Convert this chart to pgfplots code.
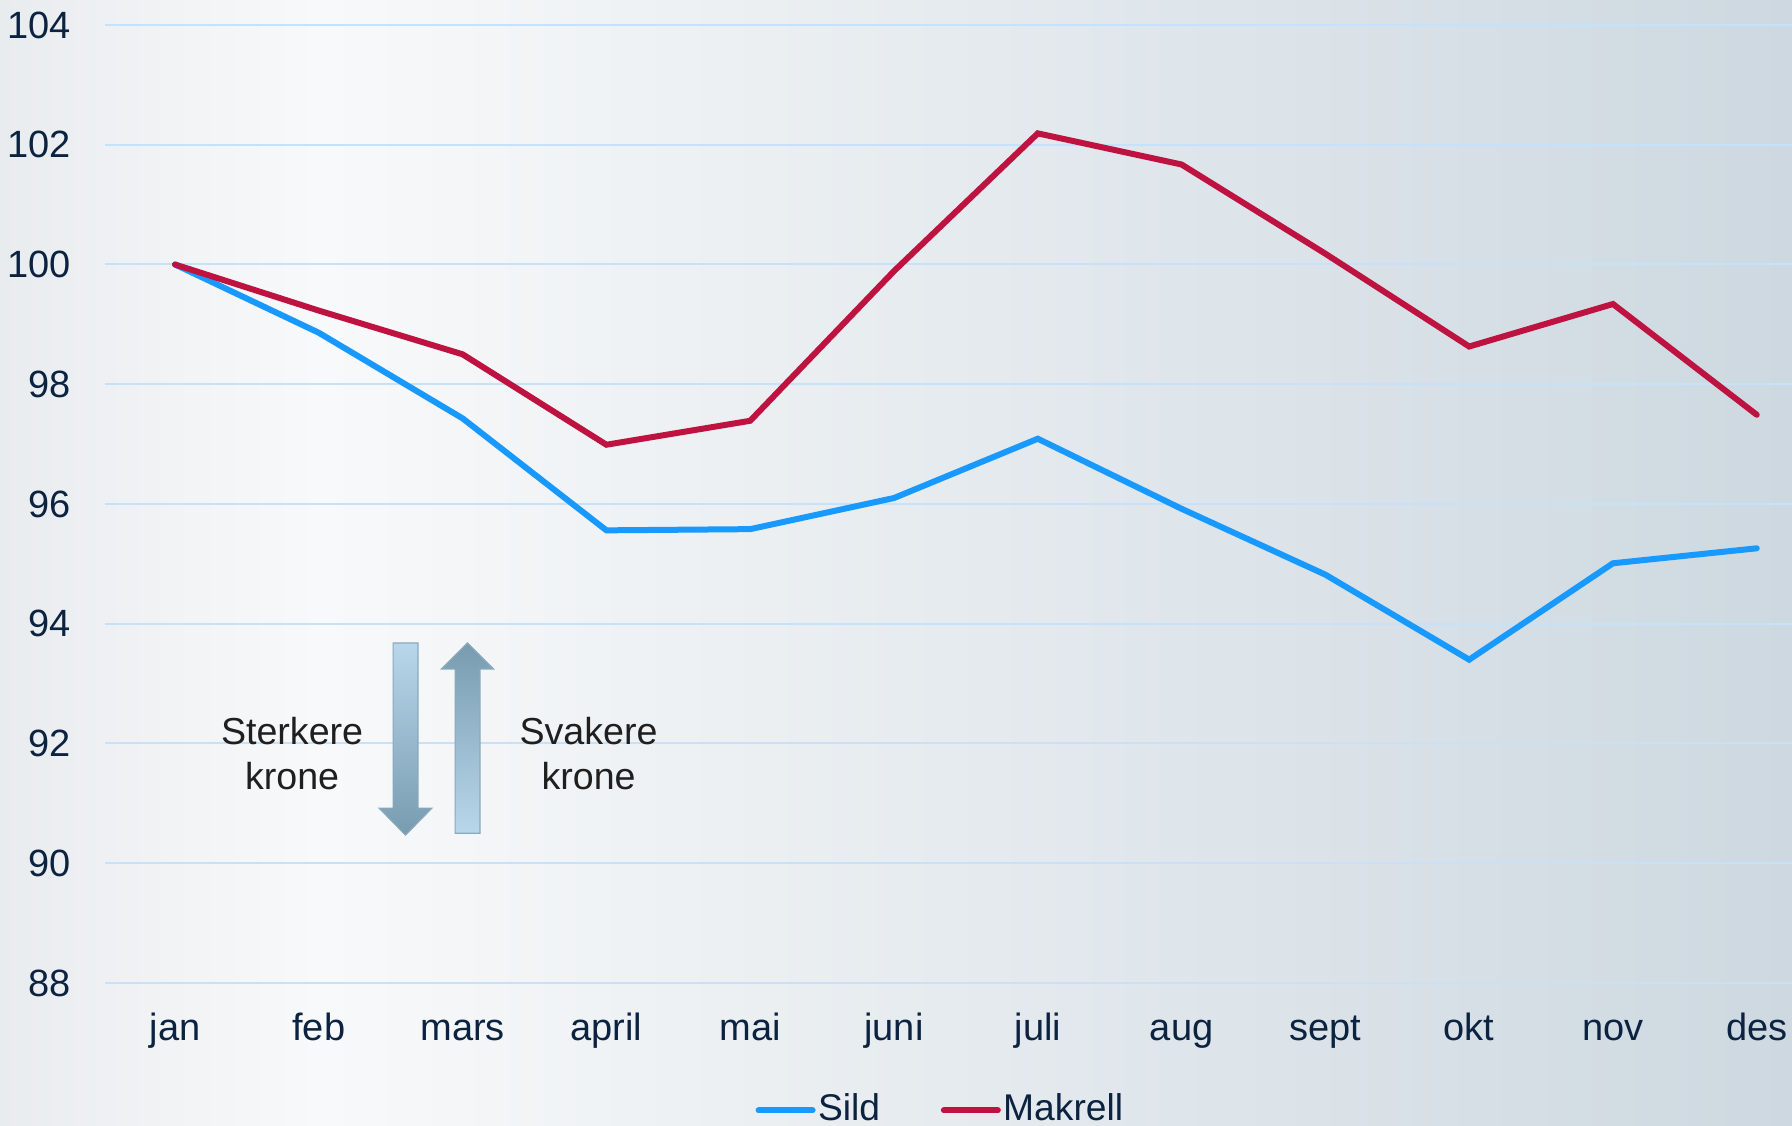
\documentclass[border=0pt]{standalone}
\usepackage{fontspec}
\setmainfont{Liberation Sans}
\usepackage{pgfplots}
\pgfplotsset{compat=1.18}
\usetikzlibrary{backgrounds}

\definecolor{sild}{HTML}{1899FF}
\definecolor{makrell}{HTML}{BE1240}
\definecolor{navy}{HTML}{0B2340}
\definecolor{gridblue}{HTML}{C6E2FA}
\definecolor{arrlight}{HTML}{B9D7EB}
\definecolor{arrdark}{HTML}{789BB0}
\definecolor{arredge}{HTML}{8AA9BC}
\definecolor{bgL}{HTML}{E9ECEF}
\definecolor{bgW}{HTML}{F8F9FA}
\definecolor{bgR}{HTML}{CDD8E0}

\pgfplotstableread{
x sild makrell
0  100.00 100.00
1  98.86  99.23
2  97.43  98.50
3  95.56  96.99
4  95.58  97.39
5  96.10  99.89
6  97.09  102.19
7  95.92  101.67
8  94.82  100.18
9  93.40  98.63
10 95.01  99.34
11 95.26  97.49
}\indeks

\begin{document}
\begin{tikzpicture}
\begin{axis}[
    name=ax,
    scale only axis,
    width=421.75pt, height=239.5pt,
    xmin=-0.487, xmax=11.245,
    ymin=88, ymax=104,
    xtick={0,...,11},
    xticklabels={jan,feb,mars,april,mai,juni,juli,aug,sept,okt,nov,des},
    ytick={88,90,...,104},
    ymajorgrids,
    grid style={gridblue, line width=0.5pt},
    axis line style={draw=none},
    major tick length=0pt,
    tick label style={font=\fontsize{9.5}{11.4}\selectfont, text=navy},
    /pgf/number format/assume math mode=true,
    yticklabel style={xshift=-5pt},
    xticklabel style={anchor=base, yshift=-14.25pt},
    clip=false,
    legend columns=-1,
    legend style={at={(0.4953,-0.133)}, anchor=center, draw=none, fill=none,
        font=\fontsize{9.3}{11}\selectfont, text=navy,
        nodes={inner xsep=0.6pt},
        /tikz/every even column/.append style={column sep=14.6pt}},
    legend image code/.code={\draw[#1, line width=1.5pt, line cap=round] (0pt,0pt) -- (13.5pt,0pt);},
]
\addplot[sild, line width=1.5pt, line cap=round] table[x=x, y=sild] {\indeks};
\addlegendentry{Sild}
\addplot[makrell, line width=1.5pt, line cap=round] table[x=x, y=makrell] {\indeks};
\addlegendentry{Makrell}

% pil ned: sterkere krone
\shade[top color=arrlight, bottom color=arrdark, draw=arredge, line width=0.3pt]
  ([xshift=-3.1pt]axis cs:1.603,93.68) -- ([xshift=3.1pt]axis cs:1.603,93.68)
  -- ([xshift=3.1pt,yshift=6.75pt]axis cs:1.603,90.47)
  -- ([xshift=6.6pt,yshift=6.75pt]axis cs:1.603,90.47)
  -- (axis cs:1.603,90.47)
  -- ([xshift=-6.6pt,yshift=6.75pt]axis cs:1.603,90.47)
  -- ([xshift=-3.1pt,yshift=6.75pt]axis cs:1.603,90.47) -- cycle;
% pil opp: svakere krone
\shade[top color=arrdark, bottom color=arrlight, draw=arredge, line width=0.3pt]
  ([xshift=-3.1pt]axis cs:2.034,90.50) -- ([xshift=3.1pt]axis cs:2.034,90.50)
  -- ([xshift=3.1pt,yshift=-6.5pt]axis cs:2.034,93.68)
  -- ([xshift=6.5pt,yshift=-6.5pt]axis cs:2.034,93.68)
  -- (axis cs:2.034,93.68)
  -- ([xshift=-6.5pt,yshift=-6.5pt]axis cs:2.034,93.68)
  -- ([xshift=-3.1pt,yshift=-6.5pt]axis cs:2.034,93.68) -- cycle;

\node[align=center, font=\fontsize{9.4}{11.25}\selectfont, text=black!88]
  at (axis cs:0.814,91.84) {Sterkere\\krone};
\node[align=center, font=\fontsize{9.4}{11.25}\selectfont, text=black!88]
  at (axis cs:2.876,91.84) {Svakere\\krone};
\end{axis}

\pgfresetboundingbox
\path[use as bounding box] ([shift={(-26.25pt,-35.75pt)}]ax.south west)
  rectangle ([shift={(0pt,6.25pt)}]ax.north east);
\begin{scope}[on background layer]
\path ([shift={(-26.25pt,-35.75pt)}]ax.south west) coordinate (bsw);
\path ([shift={(0pt,6.25pt)}]ax.north east) coordinate (bne);
\shade[left color=bgL, right color=bgW] (bsw) rectangle ([xshift=80pt]bsw |- bne);
\shade[left color=bgW, right color=bgR] ([xshift=80pt]bsw) rectangle (bne);
\end{scope}
\end{tikzpicture}
\end{document}
